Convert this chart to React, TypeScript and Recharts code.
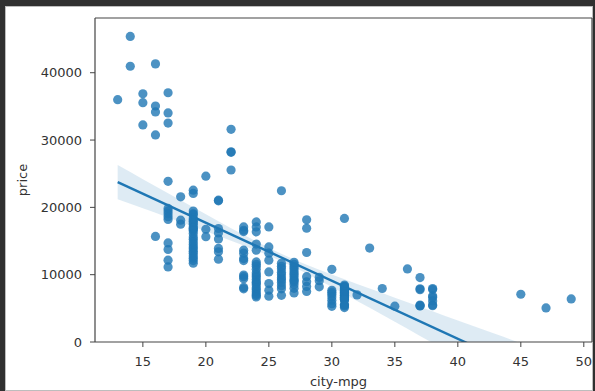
import React from 'react';
import { ComposedChart, Scatter, Line, Area, XAxis, YAxis, Label, ReferenceLine } from 'recharts';

// city-mpg values and the car prices observed at each of them
const mpgGroups = [13, 14, 15, 16, 17, 18, 19, 20, 21, 22, 23, 24, 25, 26, 27, 28, 29, 30, 31, 32, 33, 34, 35, 36, 37, 38, 45, 47, 49];
const priceGroups: number[][] = [
  [36000],
  [45400, 40960],
  [36880, 35550, 32250],
  [41315, 35056, 34184, 30760, 15690],
  [37028, 34028, 32528, 23875, 19840, 19450, 19045, 18620, 18200, 14720, 13740, 12150, 11150],
  [21560, 18100, 17500],
  [22560, 22070, 19450, 19045, 18950, 18420, 18150, 17950, 17669, 17450, 17075, 16900, 16695, 16515, 16100, 15580, 15250, 14869, 14489, 14100, 13860, 13499, 13200, 12764, 12440, 12100, 11700],
  [24640, 16750, 15650],
  [21070, 20970, 16860, 16200, 15300, 13900, 13400, 12300],
  [31600, 28248, 28176, 25552],
  [17100, 16600, 16400, 13640, 13200, 12400, 12100, 9950, 9700, 9400, 8100, 7900],
  [17840, 17100, 16360, 14550, 13640, 11900, 11550, 11245, 10795, 10295, 9960, 9639, 9279, 8921, 8778, 8449, 8058, 7799, 7463, 7126, 6918, 6692],
  [17100, 14130, 13200, 12150, 10410, 8680, 7700, 6800],
  [22470, 11694, 11248, 10898, 10345, 9989, 9538, 9233, 8845, 8358, 7898, 6938],
  [11850, 11549, 11199, 10945, 10595, 10245, 9995, 9639, 9298, 9095, 8916, 8495, 7975, 7295],
  [18150, 16900, 13295, 9700, 8948, 8249, 7500],
  [9600, 9100, 8200],
  [10800, 7690, 7400, 7100, 6690, 6200, 5700, 5300],
  [18350, 8450, 8249, 8238, 8058, 7957, 7775, 7738, 7609, 7499, 7395, 7299, 7198, 7126, 6989, 6938, 6849, 6692, 6649, 6575, 6479, 6377, 6295, 6229, 5572, 5499, 5348, 5118],
  [7000],
  [13950],
  [7950],
  [5320],
  [10850],
  [9570, 7900, 7780, 5500, 5400, 5348],
  [7950, 7800, 6850, 6600, 6100, 5500, 5400],
  [7090],
  [5060],
  [6400],
];

const xTicks = [15, 20, 25, 30, 35, 40, 45, 50];
const yTicks = [0, 10000, 20000, 30000, 40000];

// fitted regression line (end points)
const fitMpg = [13, 49];
const fitPrice = [23750, -7282];

// confidence band around the fit
const bandMpg = [13, 15, 17, 19, 21, 23, 25, 27, 29, 31, 33, 35, 37, 39, 41, 43, 45, 47, 49];
const bandLow = [21200, 19870, 18510, 17140, 15760, 14340, 12820, 11100, 9170, 7140, 5070, 2990, 900, -1190, -3290, -5390, -7490, -9590, -11690];
const bandHigh = [26300, 24190, 22100, 20020, 17950, 15920, 13990, 12260, 10750, 9330, 7950, 6580, 5220, 3870, 2520, 1170, -180, -1530, -2880];

const points = mpgGroups.flatMap((m, i) => priceGroups[i].map((p) => ({ x: m, y: p })));
const bandData = bandMpg.map((m, i) => ({ x: m, band: [bandLow[i], bandHigh[i]] }));
const fitData = fitMpg.map((m, i) => ({ x: m, fit: fitPrice[i] }));

const BLUE = '#1f77b4';
const INK = '#333';
const SPINE = '#444';
const FONT = '"DejaVu Sans", sans-serif';
const X_DOMAIN: [number, number] = [11.2, 50.65];
const Y_DOMAIN: [number, number] = [0, 48130];

const Dot = (props: any) => (
  <circle cx={props.cx} cy={props.cy} r={4.6} fill={BLUE} fillOpacity={0.8} />
);

export default function App() {
  const tickStyle = { fontSize: 13, fill: INK, fontFamily: FONT };
  return (
    <div style={{ position: 'absolute', left: 0, top: 0, width: 595, height: 391, background: '#303030', overflow: 'hidden' }}>
      <div style={{ position: 'absolute', left: 5, top: 6, width: 588, height: 385, background: '#fff', boxShadow: 'inset 0 0 0 1px #bdbdbd' }} />
      <div style={{ position: 'absolute', left: 0, top: 0 }}>
        <ComposedChart width={595} height={391} data={bandData} margin={{ top: 18, right: 3, bottom: 0, left: 0 }}>
          <XAxis
            dataKey="x"
            type="number"
            domain={X_DOMAIN}
            allowDataOverflow
            ticks={xTicks}
            height={49}
            tickSize={5}
            tickMargin={10}
            tick={tickStyle}
            stroke={SPINE}
            tickLine={{ stroke: SPINE }}
            axisLine={{ stroke: SPINE, strokeWidth: 1.2 }}
          >
            <Label
              content={({ viewBox }: any) => (
                <text
                  x={viewBox.x + viewBox.width / 2 - 5}
                  y={viewBox.y + 44}
                  textAnchor="middle"
                  fontSize={13}
                  fill={INK}
                  fontFamily={FONT}
                >
                  city-mpg
                </text>
              )}
            />
          </XAxis>
          <YAxis
            type="number"
            domain={Y_DOMAIN}
            allowDataOverflow
            ticks={yTicks}
            width={95}
            tickSize={5}
            tickMargin={8}
            tick={tickStyle}
            stroke={SPINE}
            tickLine={{ stroke: SPINE }}
            axisLine={{ stroke: SPINE, strokeWidth: 1.2 }}
          >
            <Label
              content={({ viewBox }: any) => (
                <text
                  transform={`translate(27, ${viewBox.y + viewBox.height / 2}) rotate(-90)`}
                  textAnchor="middle"
                  fontSize={13}
                  fill={INK}
                  fontFamily={FONT}
                >
                  price
                </text>
              )}
            />
          </YAxis>
          {/* top and right spines of the axes box */}
          <ReferenceLine y={Y_DOMAIN[1]} stroke={SPINE} strokeWidth={1.2} ifOverflow="visible" />
          <ReferenceLine x={X_DOMAIN[1]} stroke={SPINE} strokeWidth={1.2} ifOverflow="visible" />
          <Scatter data={points} dataKey="y" shape={Dot} isAnimationActive={false} />
          <Area dataKey="band" type="monotone" stroke="none" fill={BLUE} fillOpacity={0.15} isAnimationActive={false} />
          <Line data={fitData} dataKey="fit" type="linear" stroke={BLUE} strokeWidth={2.4} dot={false} activeDot={false} isAnimationActive={false} />
        </ComposedChart>
      </div>
    </div>
  );
}
